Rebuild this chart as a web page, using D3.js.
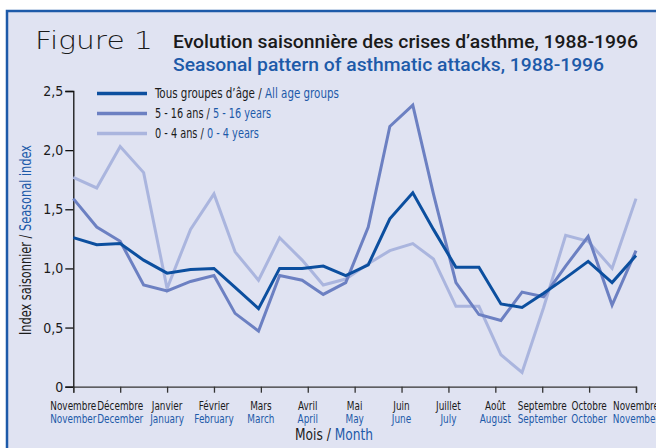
<!DOCTYPE html>
<html>
<head>
<meta charset="utf-8">
<script src="https://cdn.jsdelivr.net/npm/d3@7"></script>
<style>
body { margin: 0; background: #fff; }
text { font-family: "Liberation Sans Narrow", "DejaVu Sans Condensed", "Roboto", sans-serif; }
</style>
</head>
<body>
<div id="chart"></div>
<script>
// month labels, French and English
var monthsFr = ["Novembre", "Décembre", "Janvier", "Février", "Mars", "Avril", "Mai",
                "Juin", "Juillet", "Août", "Septembre", "Octobre", "Novembre"];
var monthsEn = ["November", "December", "January", "February", "March", "April", "May",
                "June", "July", "August", "September", "October", "November"];

// time of each point, in months since November
var period = [0, 0.5, 1, 1.5, 2, 2.5, 3, 3.45, 3.95, 4.4, 4.88, 5.33, 5.81,
              6.29, 6.75, 7.24, 7.68, 8.16, 8.65, 9.12, 9.57, 10.03, 10.5, 10.98, 11.49, 12];

var allAges = [1.26, 1.20, 1.21, 1.07, 0.96, 0.99, 1.00, 0.84, 0.66, 1.00, 1.00, 1.02, 0.94,
               1.03, 1.42, 1.64, 1.33, 1.01, 1.01, 0.70, 0.67, 0.79, 0.92, 1.06, 0.88, 1.11];
var age5to16 = [1.59, 1.35, 1.23, 0.86, 0.81, 0.89, 0.94, 0.62, 0.47, 0.94, 0.90, 0.78, 0.88,
                1.35, 2.20, 2.38, 1.63, 0.88, 0.61, 0.56, 0.80, 0.76, 1.02, 1.27, 0.69, 1.15];
var age0to4 = [1.77, 1.68, 2.03, 1.81, 0.83, 1.33, 1.63, 1.14, 0.90, 1.26, 1.07, 0.86, 0.91,
               1.04, 1.15, 1.21, 1.08, 0.68, 0.68, 0.27, 0.12, 0.67, 1.28, 1.23, 1.00, 1.59];

var yTicks = [0, 0.5, 1, 1.5, 2, 2.5];

var seriesNames = [
    {fr: "Tous groupes d\u2019âge /", en: "All age groups"},
    {fr: "5 - 16 ans /", en: "5 - 16 years"},
    {fr: "0 - 4 ans /", en: "0 - 4 years"}
];
var legendWidths = [184, 116, 104];

//////////////////////////////////////////////////////////////////////////////
// setup

var width = 656, height = 448;
var blue = "#1d5aa9";
var ink = "#1a1a1a";
var colors = ["#0c4f9f", "#6c80c2", "#aab5de"];

var svg = d3.select("#chart").append("svg")
    .attr("width", width)
    .attr("height", height);

svg.append("rect")
    .attr("x", 7).attr("y", 11)
    .attr("width", 700).attr("height", 500)
    .attr("fill", "#e0e3f2")
    .attr("stroke", blue)
    .attr("stroke-width", 2.5);

var xScale = d3.scaleLinear().domain([0, 12]).range([73.3, 636]);
var yScale = d3.scaleLinear().domain([0, 2.5]).range([386.7, 91]);

// black French part, then blue English part, squeezed to a given width
function bilingual(g, place, fr, en, size, target) {
    var t1 = g.append("text").attr("font-size", size).attr("fill", ink).text(fr);
    var w1 = t1.node().getComputedTextLength() + size * 0.28;
    var t2 = g.append("text").attr("x", w1).attr("font-size", size).attr("fill", blue).text(en);
    var total = w1 + t2.node().getComputedTextLength();
    g.attr("transform", place + " scale(" + (target / total) + ",1)");
}

//////////////////////////////////////////////////////////////////////////////
// titles

svg.append("text")
    .attr("x", 35).attr("y", 48.5)
    .attr("font-size", 25)
    .style("font-family", "'DejaVu Sans', sans-serif")
    .attr("font-weight", 200)
    .attr("fill", ink)
    .attr("textLength", 118).attr("lengthAdjust", "spacingAndGlyphs")
    .text("Figure 1");

svg.append("text")
    .attr("x", 173).attr("y", 48)
    .attr("font-size", 19)
    .style("font-family", "Roboto, sans-serif")
    .attr("font-weight", 500)
    .attr("fill", ink)
    .attr("textLength", 465).attr("lengthAdjust", "spacingAndGlyphs")
    .text("Evolution saisonnière des crises d\u2019asthme, 1988-1996");

svg.append("text")
    .attr("x", 173).attr("y", 71)
    .attr("font-size", 19)
    .style("font-family", "Roboto, sans-serif")
    .attr("font-weight", 500)
    .attr("fill", blue)
    .attr("textLength", 431).attr("lengthAdjust", "spacingAndGlyphs")
    .text("Seasonal pattern of asthmatic attacks, 1988-1996");

//////////////////////////////////////////////////////////////////////////////
// axes

var yAxis = svg.append("g")
    .attr("transform", "translate(" + xScale(0) + ",0)")
    .call(d3.axisLeft(yScale).tickValues(yTicks).tickSize(8).tickPadding(2)
        .tickFormat(function(d) { return d === 0 ? "0" : d3.format(".1f")(d).replace(".", ","); }));
yAxis.select(".domain").attr("stroke", "#111").attr("stroke-width", 1.3);
yAxis.selectAll(".tick line").attr("stroke", "#111").attr("stroke-width", 1.3);
yAxis.selectAll(".tick text").attr("font-size", 14).attr("fill", ink)
    .style("font-family", "'DejaVu Sans Condensed', 'DejaVu Sans', sans-serif");

var xAxis = svg.append("g")
    .attr("transform", "translate(0," + yScale(0) + ")")
    .call(d3.axisBottom(xScale).tickValues(d3.range(0, 13)).tickSize(6).tickFormat(""));
xAxis.select(".domain").attr("stroke", "#333").attr("stroke-width", 1.3);
xAxis.selectAll(".tick line").attr("stroke", "#333").attr("stroke-width", 1.3);

var xLabels = svg.append("g").selectAll("g")
    .data(monthsFr)
    .enter()
    .append("g")
    .attr("transform", function(d, i) { return "translate(" + xScale(i) + ",0) scale(0.86,1)"; });

xLabels.append("text")
    .attr("y", 410)
    .attr("text-anchor", "middle")
    .attr("font-size", 11.5)
    .attr("fill", ink)
    .text(function(d) { return d; });

xLabels.append("text")
    .attr("y", 423)
    .attr("text-anchor", "middle")
    .attr("font-size", 11.5)
    .attr("fill", blue)
    .text(function(d, i) { return monthsEn[i]; });

bilingual(svg.append("g"), "translate(295,440)", "Mois /", "Month", 16, 78);
bilingual(svg.append("g"), "translate(31,335) rotate(-90)", "Index saisonnier /", "Seasonal index", 15, 190);

//////////////////////////////////////////////////////////////////////////////
// lines

var line = d3.line()
    .x(function(d, i) { return xScale(period[i]); })
    .y(function(d) { return yScale(d); });

var series = [allAges, age5to16, age0to4];

svg.append("g").selectAll("path")
    .data(series.slice().reverse())
    .enter()
    .append("path")
    .attr("d", line)
    .attr("fill", "none")
    .attr("stroke", function(d, i) { return colors[2 - i]; })
    .attr("stroke-width", 3)
    .attr("stroke-linejoin", "miter");

//////////////////////////////////////////////////////////////////////////////
// legend

seriesNames.forEach(function(d, i) {
    var y = 93.5 + i * 20;
    svg.append("line")
        .attr("x1", 97).attr("x2", 147)
        .attr("y1", y).attr("y2", y)
        .attr("stroke", colors[i])
        .attr("stroke-width", 3.5);
    bilingual(svg.append("g"), "translate(155," + (y + 4.5) + ")", d.fr, d.en, 13.5, legendWidths[i]);
});
</script>
</body>
</html>
